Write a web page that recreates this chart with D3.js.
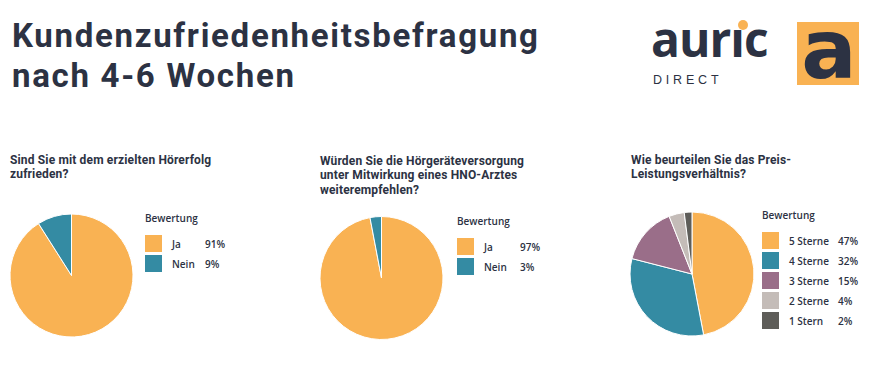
<!DOCTYPE html>
<html>
<head>
<meta charset="utf-8">
<script src="https://cdn.jsdelivr.net/npm/d3@7"></script>
<style>
  body { margin: 0; background: #fff; }
  svg { display: block; font-family: "Open Sans", "Noto Sans", sans-serif; }
</style>
</head>
<body>
<svg id="chart" width="874" height="386"></svg>
<script>
// survey data
var q1Title = ['Sind Sie mit dem erzielten Hörerfolg', 'zufrieden?'];
var q1Labels = ['Ja', 'Nein'];
var q1Values = [91, 9];

var q2Title = ['Würden Sie die Hörgeräteversorgung', 'unter Mitwirkung eines HNO-Arztes', 'weiterempfehlen?'];
var q2Labels = ['Ja', 'Nein'];
var q2Values = [97, 3];

var q3Title = ['Wie beurteilen Sie das Preis-', 'Leistungsverhältnis?'];
var q3Labels = ['5 Sterne', '4 Sterne', '3 Sterne', '2 Sterne', '1 Stern'];
var q3Values = [47, 32, 15, 4, 2];

var colors = ['#F9B253', '#348BA3', '#9A6E89', '#C4BCB8', '#5E5D59'];
var ink = '#2C3243';
var compact = 'Roboto, "Liberation Sans", sans-serif';

var svg = d3.select('#chart');

// header, two lines in one text
var head = svg.append('text')
    .attr('x', 12).attr('y', 47)
    .attr('fill', ink)
    .style('font-family', compact)
    .style('font-size', '33px').style('font-weight', 700)
    .style('letter-spacing', '1.7px');
head.append('tspan').attr('x', 12).attr('dy', 0).text('Kundenzufriedenheitsbefragung');
head.append('tspan').attr('x', 12).attr('dy', 40).text('nach 4-6 Wochen');

// logo
var logo = svg.append('g');
logo.append('text')
    .attr('x', 651).attr('y', 57)
    .attr('fill', ink)
    .style('font-size', '48px').style('font-weight', 700)
    .style('letter-spacing', '-1px')
    .text('aurıc');
logo.append('circle').attr('cx', 743).attr('cy', 25).attr('r', 5).attr('fill', colors[0]);
logo.append('text')
    .attr('x', 653).attr('y', 84)
    .attr('fill', ink)
    .style('font-family', '"Liberation Sans", sans-serif')
    .style('font-size', '12.5px')
    .style('letter-spacing', '3.8px')
    .text('DIRECT');
logo.append('rect')
    .attr('x', 797).attr('y', 22).attr('width', 62).attr('height', 63)
    .attr('fill', colors[0]);
logo.append('text')
    .attr('x', 829).attr('y', 78)
    .attr('text-anchor', 'middle')
    .attr('fill', ink)
    .style('font-family', '"DejaVu Sans", sans-serif')
    .style('font-size', '82px').style('font-weight', 700)
    .text('a');

function drawQuestion(cfg) {
    var g = svg.append('g');

    var t = g.append('text')
        .attr('x', cfg.tx).attr('y', cfg.ty)
        .attr('fill', ink)
        .style('font-family', compact)
        .style('font-size', '12px').style('font-weight', 700)
        .style('letter-spacing', '0.15px');
    t.selectAll('tspan')
        .data(cfg.title)
        .enter().append('tspan')
        .attr('x', cfg.tx)
        .attr('dy', function(d, i) { return i === 0 ? 0 : 14.3; })
        .text(function(d) { return d; });

    var pie = d3.pie().sort(null).value(function(d) { return d; });
    var arc = d3.arc().innerRadius(0).outerRadius(cfg.r);

    g.append('g')
        .attr('transform', 'translate(' + cfg.cx + ',' + cfg.cy + ')')
        .selectAll('path')
        .data(pie(cfg.values))
        .enter().append('path')
        .attr('d', arc)
        .attr('fill', function(d, i) { return colors[i]; })
        .attr('stroke', '#fff')
        .attr('stroke-width', 1);

    var lg = g.append('g').attr('transform', 'translate(' + cfg.lx + ',' + cfg.ly + ')');
    lg.append('text')
        .attr('x', 0).attr('y', 0)
        .attr('fill', ink)
        .style('font-size', '10px').style('font-weight', 600)
        .text('Bewertung');

    var items = lg.selectAll('g.item')
        .data(cfg.labels)
        .enter().append('g')
        .attr('class', 'item')
        .attr('transform', function(d, i) { return 'translate(0,' + (13 + i * 20) + ')'; });
    items.append('rect')
        .attr('width', 17).attr('height', 17)
        .attr('fill', function(d, i) { return colors[i]; });
    items.append('text')
        .attr('x', cfg.labelX).attr('y', 12.5)
        .attr('fill', ink)
        .style('font-size', '10px').style('font-weight', 600)
        .text(function(d) { return d; });
    items.append('text')
        .attr('x', cfg.pctX).attr('y', 12.5)
        .attr('fill', ink)
        .style('font-size', '10px').style('font-weight', 600)
        .text(function(d, i) { return cfg.values[i] + '%'; });
}

drawQuestion({ title: q1Title, labels: q1Labels, values: q1Values,
    tx: 10, ty: 164, cx: 71.5, cy: 275.5, r: 61.5, lx: 145, ly: 222, labelX: 27, pctX: 60 });
drawQuestion({ title: q2Title, labels: q2Labels, values: q2Values,
    tx: 320, ty: 165, cx: 381.5, cy: 278, r: 61.5, lx: 457, ly: 225, labelX: 27, pctX: 63 });
drawQuestion({ title: q3Title, labels: q3Labels, values: q3Values,
    tx: 631, ty: 164, cx: 692, cy: 274, r: 62, lx: 762, ly: 219, labelX: 27, pctX: 76 });
</script>
</body>
</html>
